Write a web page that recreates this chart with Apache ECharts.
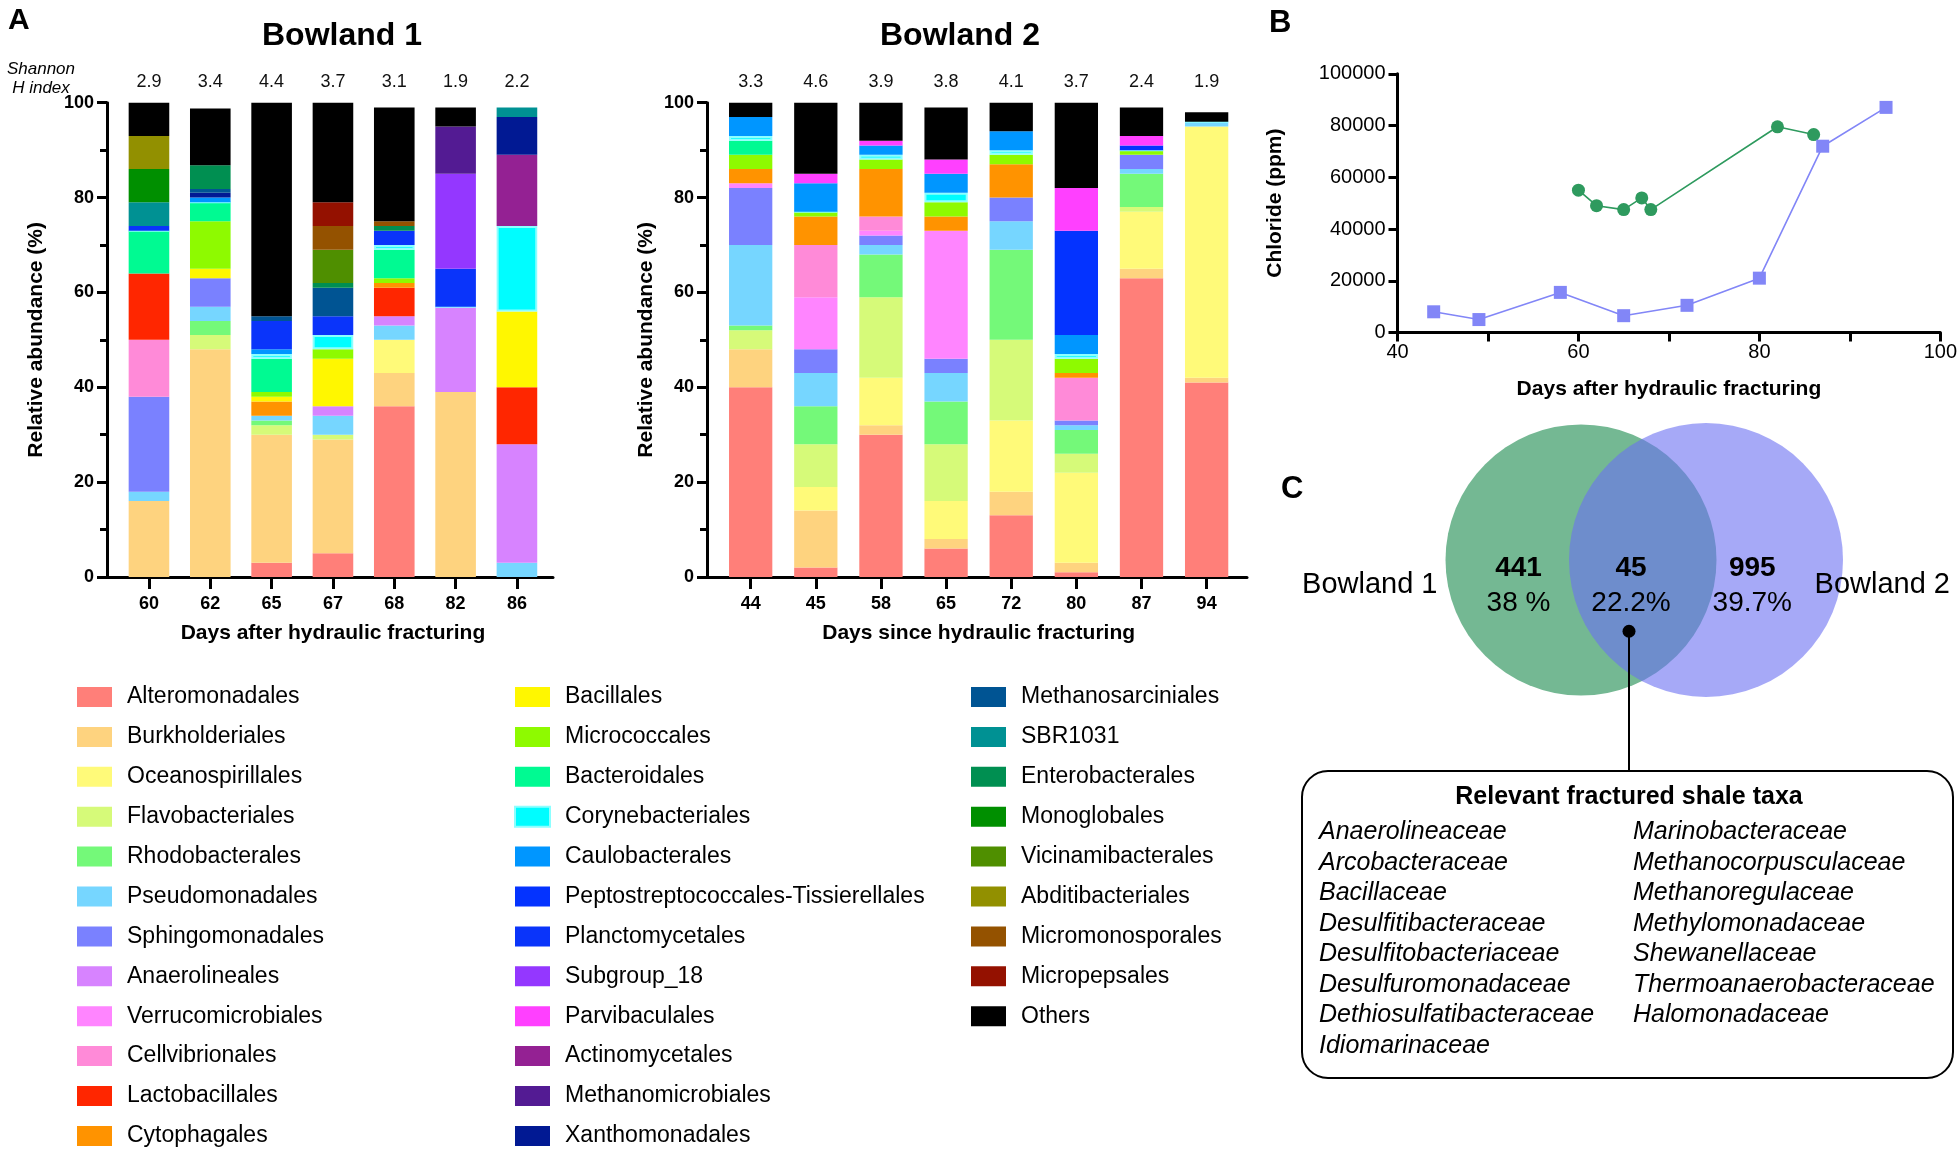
<!DOCTYPE html>
<html><head><meta charset="utf-8">
<script src="https://cdn.jsdelivr.net/npm/echarts@6/dist/echarts.min.js"></script>
<style>html,body{margin:0;padding:0;background:#fff}#c{width:1960px;height:1156px}</style>
</head><body><div id="c"></div>
<script>
// ---------------- DATA ----------------
const taxa = ['Alteromonadales','Burkholderiales','Oceanospirillales','Flavobacteriales','Rhodobacterales','Pseudomonadales','Sphingomonadales','Anaerolineales','Verrucomicrobiales','Cellvibrionales','Lactobacillales','Cytophagales',
  'Bacillales','Micrococcales','Bacteroidales','Corynebacteriales','Caulobacterales','Peptostreptococcales-Tissierellales','Planctomycetales','Subgroup_18','Parvibaculales','Actinomycetales','Methanomicrobiales','Xanthomonadales',
  'Methanosarciniales','SBR1031','Enterobacterales','Monoglobales','Vicinamibacterales','Abditibacteriales','Micromonosporales','Micropepsales','Others'];
const taxaColors = ['#FF7F79','#FED37F','#FFFA79','#D6FA79','#74F979','#76D6FF','#7A81FF','#D783FF','#FF85FF','#FF8AD8','#FF2600','#FF9300',
  '#FFF700','#8EFA00','#00FA92','#00FDFF','#0096FF','#0433FF','#0A34FA','#9437FF','#FF40FF','#942193','#531B93','#011993',
  '#005493','#009193','#008F51','#008F00','#4F8F00','#929000','#945200','#941100','#000000'];

const b1Days = ['60','62','65','67','68','82','86'];
const b1Shannon = ['2.9','3.4','4.4','3.7','3.1','1.9','2.2'];
const b2Days = ['44','45','58','65','72','80','87','94'];
const b2Shannon = ['3.3','4.6','3.9','3.8','4.1','3.7','2.4','1.9'];

// Bowland 1 relative abundance (%) - days 60,62,65,67,68,82,86
const b1_Alteromonadales   = [0,0,3,5,36,0,0];
const b1_Burkholderiales   = [16,48,27,24,7,39,0];
const b1_Oceanospirillales = [0,0,0,0,7,0,0];
const b1_Flavobacteriales  = [0,3,2,1,0,0,0];
const b1_Rhodobacterales   = [0,3,1,0,0,0,0];
const b1_Pseudomonadales   = [2,3,1,4,3,0,3];
const b1_Sphingomonadales  = [20,6,0,0,0,0,0];
const b1_Anaerolineales    = [0,0,0,2,2,18,25];
const b1_Verrucomicrobiales= [0,0,0,0,0,0,0];
const b1_Cellvibrionales   = [12,0,0,0,0,0,0];
const b1_Lactobacillales   = [14,0,0,0,6,0,12];
const b1_Cytophagales      = [0,0,3,0,1,0,0];
const b1_Bacillales        = [0,2,1,10,0,0,16];
const b1_Micrococcales     = [0,10,1,2,1,0,0];
const b1_Bacteroidales     = [9,4,7,0,6,0,0];
const b1_Corynebacteriales = [0,0,1,3,1,0,18];
const b1_Caulobacterales   = [0,1,1,0,0,0,0];
const b1_Peptostreptococcales = [0,0,0,0,0,0,0];
const b1_Planctomycetales   = [1,0,6,4,3,8,0];
const b1_Subgroup18         = [0,0,0,0,0,20,0];
const b1_Parvibaculales     = [0,0,0,0,0,0,0];
const b1_Actinomycetales    = [0,0,0,0,0,0,15];
const b1_Methanomicrobiales = [0,0,0,0,0,10,0];
const b1_Xanthomonadales    = [0,1,0,0,0,0,8];
const b1_Methanosarciniales = [0,0.8,1,6,0,0,0];
const b1_SBR1031            = [5,0,0,0,0,0,2];
const b1_Enterobacterales   = [0,5,0,1,1,0,0];
const b1_Monoglobales       = [7,0,0,0,0,0,0];
const b1_Vicinamibacterales = [0,0,0,7,0,0,0];
const b1_Abditibacteriales  = [7,0,0,0,0,0,0];
const b1_Micromonosporales  = [0,0,0,5,1,0,0];
const b1_Micropepsales      = [0,0,0,5,0,0,0];
const b1_Others             = [7,12,45,21,24,4,0];

// Bowland 2 relative abundance (%) - days 44,45,58,65,72,80,87,94
const b2_Alteromonadales   = [40,2,30,6,13,1,63,41];
const b2_Burkholderiales   = [8,12,2,2,5,2,2,1];
const b2_Oceanospirillales = [0,5,10,8,15,19,12,53];
const b2_Flavobacteriales  = [4,9,17,12,17,4,1,0];
const b2_Rhodobacterales   = [1,8,9,9,19,5,7,0];
const b2_Pseudomonadales   = [17,7,2,6,6,1,1,1];
const b2_Sphingomonadales  = [12,5,2,3,5,1,3,0];
const b2_Anaerolineales    = [0,0,0,0,0,0,0,0];
const b2_Verrucomicrobiales= [1,11,1,27,0,0,0,0];
const b2_Cellvibrionales   = [0,11,3,0,0,9,0,0];
const b2_Lactobacillales   = [0,0,0,0,0,0,0,0];
const b2_Cytophagales      = [3,6,10,3,7,1,0,0];
const b2_Bacillales        = [0,0,0,0,0,0,0,0];
const b2_Micrococcales     = [3,1,2,3,2,3,1,0];
const b2_Bacteroidales     = [3,0,0,0,0,0,0,0];
const b2_Corynebacteriales = [1,0,1,2,1,1,0,0];
const b2_Caulobacterales   = [4,6,2,4,4,4,0,0];
const b2_Peptostreptococcales = [0,0,0,0,0,22,1,0];
const b2_Planctomycetales   = [0,0,0,0,0,0,0,0];
const b2_Subgroup18         = [0,0,0,0,0,0,0,0];
const b2_Parvibaculales     = [0,2,1,3,0,9,2,0];
const b2_Actinomycetales    = [0,0,0,0,0,0,0,0];
const b2_Methanomicrobiales = [0,0,0,0,0,0,0,0];
const b2_Xanthomonadales    = [0,0,0,0,0,0,0,0];
const b2_Methanosarciniales = [0,0,0,0,0,0,0,0];
const b2_SBR1031            = [0,0,0,0,0,0,0,0];
const b2_Enterobacterales   = [0,0,0,0,0,0,0,0];
const b2_Monoglobales       = [0,0,0,0,0,0,0,0];
const b2_Vicinamibacterales = [0,0,0,0,0,0,0,0];
const b2_Abditibacteriales  = [0,0,0,0,0,0,0,0];
const b2_Micromonosporales  = [0,0,0,0,0,0,0,0];
const b2_Micropepsales      = [0,0,0,0,0,0,0,0];
const b2_Others             = [3,15,8,11,6,18,6,2];

// Panel B: chloride (ppm)
const chlorideB1Days = [60,62,65,67,68,82,86];
const chlorideB1     = [55000,49000,47500,52000,47500,79500,76500];
const chlorideB2Days = [44,49,58,65,72,80,87,94];
const chlorideB2     = [8000,5000,15500,6500,10500,21000,72000,87000];

// Panel C: Venn
const vennSets = ['Bowland 1','Bowland 2'];
const vennCounts = [441,45,995];
const vennPercents = ['38 %','22.2%','39.7%'];
const taxaLeft = ['Anaerolineaceae','Arcobacteraceae','Bacillaceae','Desulfitibacteraceae','Desulfitobacteriaceae','Desulfuromonadaceae','Dethiosulfatibacteraceae','Idiomarinaceae'];
const taxaRight = ['Marinobacteraceae','Methanocorpusculaceae','Methanoregulaceae','Methylomonadaceae','Shewanellaceae','Thermoanaerobacteraceae','Halomonadaceae'];

// ---------------- BUILD ----------------
const b1Table = [b1_Alteromonadales,b1_Burkholderiales,b1_Oceanospirillales,b1_Flavobacteriales,b1_Rhodobacterales,b1_Pseudomonadales,b1_Sphingomonadales,b1_Anaerolineales,b1_Verrucomicrobiales,b1_Cellvibrionales,b1_Lactobacillales,b1_Cytophagales,b1_Bacillales,b1_Micrococcales,b1_Bacteroidales,b1_Corynebacteriales,b1_Caulobacterales,b1_Peptostreptococcales,b1_Planctomycetales,b1_Subgroup18,b1_Parvibaculales,b1_Actinomycetales,b1_Methanomicrobiales,b1_Xanthomonadales,b1_Methanosarciniales,b1_SBR1031,b1_Enterobacterales,b1_Monoglobales,b1_Vicinamibacterales,b1_Abditibacteriales,b1_Micromonosporales,b1_Micropepsales,b1_Others];
const b2Table = [b2_Alteromonadales,b2_Burkholderiales,b2_Oceanospirillales,b2_Flavobacteriales,b2_Rhodobacterales,b2_Pseudomonadales,b2_Sphingomonadales,b2_Anaerolineales,b2_Verrucomicrobiales,b2_Cellvibrionales,b2_Lactobacillales,b2_Cytophagales,b2_Bacillales,b2_Micrococcales,b2_Bacteroidales,b2_Corynebacteriales,b2_Caulobacterales,b2_Peptostreptococcales,b2_Planctomycetales,b2_Subgroup18,b2_Parvibaculales,b2_Actinomycetales,b2_Methanomicrobiales,b2_Xanthomonadales,b2_Methanosarciniales,b2_SBR1031,b2_Enterobacterales,b2_Monoglobales,b2_Vicinamibacterales,b2_Abditibacteriales,b2_Micromonosporales,b2_Micropepsales,b2_Others];

const FONT = 'Liberation Sans, Arial, Helvetica, sans-serif';
const BLACK = '#000';

function barSeries(table, xi, yi, stack, width) {
  return taxa.map((t, i) => ({
    name: t, type: 'bar', stack: stack, xAxisIndex: xi, yAxisIndex: yi, barWidth: width,
    data: table[i],
    itemStyle: t === 'Corynebacteriales'
      ? { color: taxaColors[i], borderColor: '#8CFFFF', borderWidth: 2 }
      : { color: taxaColors[i], borderWidth: 0 },
    emphasis: { disabled: true }
  }));
}

const frameX = (gi) => ({ gridIndex: gi, type: 'value', min: 0, max: 1, position: 'bottom',
  axisLine: { show: true, onZero: false, lineStyle: { color: BLACK, width: 3 } },
  axisTick: { show: false }, axisLabel: { show: false }, splitLine: { show: false } });
const frameY = (gi, gap) => ({ gridIndex: gi, type: 'value', min: 0, max: 100, interval: 20,
  name: 'Relative abundance (%)', nameLocation: 'middle', nameGap: gap, nameRotate: 90,
  nameTextStyle: { fontFamily: FONT, fontWeight: 'bold', fontSize: 21, color: BLACK },
  axisLine: { show: true, onZero: false, lineStyle: { color: BLACK, width: 3 } },
  axisTick: { show: true, length: 10, lineStyle: { color: BLACK, width: 3 } },
  minorTick: { show: true, splitNumber: 2, length: 7, lineStyle: { color: BLACK, width: 3 } },
  axisLabel: { fontFamily: FONT, fontWeight: 'bold', fontSize: 18, color: BLACK, margin: 13 },
  splitLine: { show: false }, minorSplitLine: { show: false } });
const barX = (gi, days, name) => ({ gridIndex: gi, type: 'category', data: days, position: 'bottom',
  name: name, nameLocation: 'middle', nameGap: 46,
  nameTextStyle: { fontFamily: FONT, fontWeight: 'bold', fontSize: 21, color: BLACK },
  axisLine: { show: false },
  axisTick: { show: true, alignWithLabel: true, length: 12, lineStyle: { color: BLACK, width: 3 } },
  axisLabel: { fontFamily: FONT, fontWeight: 'bold', fontSize: 18, color: BLACK, margin: 18 },
  splitLine: { show: false } });
const shannonX = (gi, vals) => ({ gridIndex: gi, type: 'category', data: vals, position: 'top',
  axisLine: { show: false }, axisTick: { show: false },
  axisLabel: { fontFamily: FONT, fontSize: 18, color: '#111', margin: 12 }, splitLine: { show: false } });
const hiddenY = (gi) => ({ gridIndex: gi, type: 'value', min: 0, max: 100, show: false });

const legendBase = {
  orient: 'vertical', top: 685.5, height: 600, padding: 0,
  itemWidth: 35, itemHeight: 20, itemGap: 16.9, icon: 'rect',
  selectedMode: false,
  textStyle: { fontFamily: FONT, fontSize: 23, color: BLACK, padding: [0, 0, 0, 10] }
};

const titleStyle = (size, weight, style) => ({ fontFamily: FONT, fontSize: size, fontWeight: weight || 'normal', fontStyle: style || 'normal', color: BLACK });

const option = {
  animation: false,
  backgroundColor: '#fff',
  title: [
    { text: 'A', left: 3, top: 1, textStyle: titleStyle(30, 'bold') },
    { text: 'Bowland 1', left: 337, top: 15, textAlign: 'center', textStyle: titleStyle(32, 'bold') },
    { text: 'Bowland 2', left: 955, top: 15, textAlign: 'center', textStyle: titleStyle(32, 'bold') },
    { text: 'Shannon\nH index', left: 36, top: 55, textAlign: 'center', textStyle: Object.assign(titleStyle(17, 'normal', 'italic'), { lineHeight: 19 }) },
    { text: 'B', left: 1264, top: 3, textStyle: titleStyle(31, 'bold') },
    { text: 'C', left: 1276, top: 469, textStyle: titleStyle(31, 'bold') }
  ],
  legend: [
    Object.assign({ left: 77, data: taxa.slice(0, 12) }, legendBase),
    Object.assign({ left: 514, data: taxa.slice(12, 24) }, legendBase),
    Object.assign({ left: 971, data: taxa.slice(24) }, legendBase)
  ],
  grid: [
    { left: 107, top: 102.7, width: 446, height: 474.3 },      // 0 B1 frame
    { left: 118.3, top: 102.7, width: 429.3, height: 474.3 },  // 1 B1 bars
    { left: 707, top: 102.7, width: 540, height: 474.3 },      // 2 B2 frame
    { left: 718.1, top: 102.7, width: 521.1, height: 474.3 },  // 3 B2 bars
    { left: 1397.5, top: 73.75, width: 543.5, height: 258.75 },// 4 panel B
    { left: 1331, top: 435, width: 625, height: 375 }          // 5 venn
  ],
  xAxis: [
    frameX(0),
    barX(1, b1Days, 'Days after hydraulic fracturing'),
    shannonX(1, b1Shannon),
    frameX(2),
    barX(3, b2Days, 'Days since hydraulic fracturing'),
    shannonX(3, b2Shannon),
    { gridIndex: 4, type: 'value', min: 40, max: 100, interval: 20,
      name: 'Days after hydraulic fracturing', nameLocation: 'middle', nameGap: 46,
      nameTextStyle: { fontFamily: FONT, fontWeight: 'bold', fontSize: 21, color: BLACK },
      axisLine: { show: true, onZero: false, lineStyle: { color: BLACK, width: 3 } },
      axisTick: { show: true, length: 9, lineStyle: { color: BLACK, width: 3 } },
      minorTick: { show: true, splitNumber: 2, length: 9, lineStyle: { color: BLACK, width: 3 } },
      axisLabel: { fontFamily: FONT, fontSize: 20, color: BLACK, margin: 10, formatter: (v) => String(v) },
      splitLine: { show: false }, minorSplitLine: { show: false } },
    { gridIndex: 5, type: 'value', min: -2.5, max: 2.5, show: false }
  ],
  yAxis: [
    frameY(0, 60),
    hiddenY(1),
    frameY(2, 50),
    hiddenY(3),
    { gridIndex: 4, type: 'value', min: 0, max: 100000, interval: 20000,
      name: 'Chloride (ppm)', nameLocation: 'middle', nameGap: 112, nameRotate: 90,
      nameTextStyle: { fontFamily: FONT, fontWeight: 'bold', fontSize: 21, color: BLACK },
      axisLine: { show: true, onZero: false, lineStyle: { color: BLACK, width: 3 } },
      axisTick: { show: true, length: 9, lineStyle: { color: BLACK, width: 3 } },
      axisLabel: { fontFamily: FONT, fontSize: 20, color: BLACK, margin: 12, formatter: (v) => String(v) },
      splitLine: { show: false } },
    { gridIndex: 5, type: 'value', min: -2, max: 1, show: false }
  ],
  series: [].concat(
    barSeries(b1Table, 1, 1, 'b1', 40.6),
    barSeries(b2Table, 4, 3, 'b2', 43.3),
    [
      { name: 'Bowland 1 chloride', type: 'line', xAxisIndex: 6, yAxisIndex: 4,
        data: chlorideB1Days.map((d, i) => [d, chlorideB1[i]]),
        symbol: 'circle', symbolSize: 13,
        lineStyle: { color: '#2E9A5E', width: 1.6 }, itemStyle: { color: '#2E9A5E' }, emphasis: { disabled: true } },
      { name: 'Bowland 2 chloride', type: 'line', xAxisIndex: 6, yAxisIndex: 4,
        data: chlorideB2Days.map((d, i) => [d, chlorideB2[i]]),
        symbol: 'rect', symbolSize: 13,
        lineStyle: { color: '#8286F7', width: 1.6 }, itemStyle: { color: '#8286F7' }, emphasis: { disabled: true } },
      // Venn circles
      { name: 'venn', type: 'scatter', xAxisIndex: 7, yAxisIndex: 5, silent: true, z: 1,
        data: [
          { value: [-0.5, 0], symbolSize: 271, itemStyle: { color: '#74B893', opacity: 1 } },
          { value: [0.5, 0], symbolSize: 274, itemStyle: { color: '#6B70F2', opacity: 0.6 } }
        ] },
      // Venn numbers
      { name: 'vennLabels', type: 'scatter', xAxisIndex: 7, yAxisIndex: 5, silent: true, z: 5,
        symbolSize: 1, itemStyle: { color: 'rgba(0,0,0,0)', opacity: 1 },
        label: { show: true, position: 'inside', color: BLACK, opacity: 1, textBorderWidth: 0, fontFamily: FONT,
          formatter: (p) => p.data.txt,
          rich: { n: { fontFamily: FONT, fontWeight: 'bold', fontSize: 28, lineHeight: 35, color: BLACK, textBorderWidth: 0 },
                  p: { fontFamily: FONT, fontSize: 28, lineHeight: 35, color: BLACK, textBorderWidth: 0 },
                  s: { fontFamily: FONT, fontSize: 29, color: BLACK, textBorderWidth: 0 } } },
        data: [
          { value: [-1.0, -0.21], txt: '{n|' + vennCounts[0] + '}\n{p|' + vennPercents[0] + '}' },
          { value: [-0.1, -0.21], txt: '{n|' + vennCounts[1] + '}\n{p|' + vennPercents[1] + '}' },
          { value: [0.87, -0.21], txt: '{n|' + vennCounts[2] + '}\n{p|' + vennPercents[2] + '}' },
          { value: [-2.19, -0.2], txt: '{s|' + vennSets[0] + '}' },
          { value: [1.91, -0.2], txt: '{s|' + vennSets[1] + '}' }
        ] },
      // pointer line + dot
      { name: 'pointer', type: 'line', xAxisIndex: 7, yAxisIndex: 5, silent: true, z: 6,
        data: [[-0.116, -0.57], [-0.116, -1.69]], symbol: 'none',
        lineStyle: { color: BLACK, width: 2 } },
      { name: 'dot', type: 'scatter', xAxisIndex: 7, yAxisIndex: 5, silent: true, z: 7,
        data: [[-0.116, -0.57]], symbolSize: 13, itemStyle: { color: BLACK, opacity: 1 } }
    ]
  ),
  graphic: [
    { type: 'rect', shape: { x: 1302, y: 771, width: 651, height: 307, r: 26 },
      style: { fill: 'none', stroke: BLACK, lineWidth: 2 }, silent: true },
    { type: 'text', x: 1629, y: 797, silent: true,
      style: { text: 'Relevant fractured shale taxa', font: 'bold 25px ' + FONT, fill: BLACK, align: 'center', verticalAlign: 'middle' } },
    { type: 'text', x: 1319, y: 817, silent: true,
      style: { text: taxaLeft.join('\n'), font: 'italic 25px ' + FONT, lineHeight: 30.5, fill: BLACK, align: 'left', verticalAlign: 'top' } },
    { type: 'text', x: 1633, y: 817, silent: true,
      style: { text: taxaRight.join('\n'), font: 'italic 25px ' + FONT, lineHeight: 30.5, fill: BLACK, align: 'left', verticalAlign: 'top' } }
  ]
};

const chart = echarts.init(document.getElementById('c'), null, { renderer: 'canvas', width: 1960, height: 1156 });
chart.setOption(option);
</script>
</body></html>
